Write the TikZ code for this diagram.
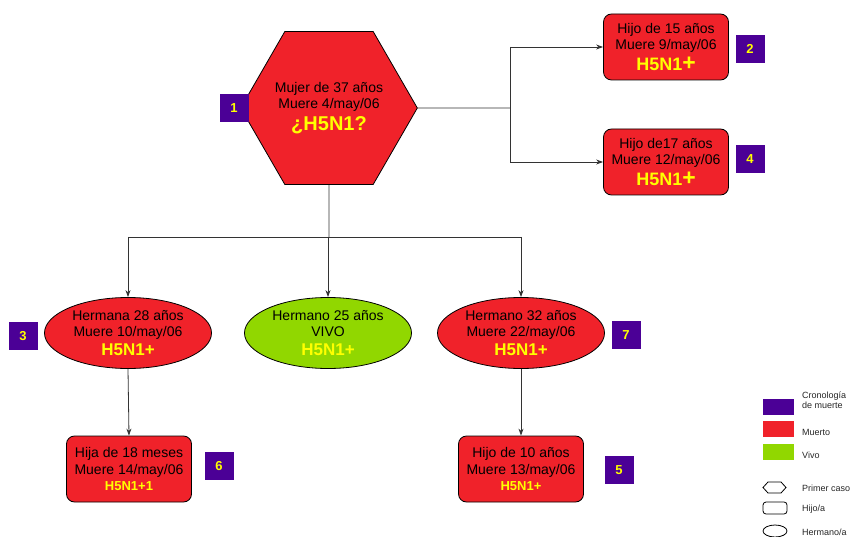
\documentclass[tikz,border=0pt]{standalone}
\usepackage{fontspec}
\setmainfont{Liberation Sans}
\usetikzlibrary{shapes.geometric,arrows.meta}
\definecolor{morado}{RGB}{75,0,150}
\definecolor{rojo}{RGB}{240,34,42}
\definecolor{verde}{RGB}{145,215,0}
\definecolor{amarillo}{RGB}{255,255,0}
\newcommand{\hcinco}[2]{{\color{amarillo}\fontsize{#1}{#1}\selectfont\bfseries #2}}

\begin{document}
\begin{tikzpicture}[x=1pt, y=-1pt,
  texto/.style={align=center, font=\fontsize{14}{16.5}\selectfont},
  caja/.style={texto, draw=black, line width=0.8pt, fill=rojo, rounded corners=8pt,
    minimum width=125pt, minimum height=66pt, inner sep=1pt},
  elipse/.style={texto, draw=black, line width=0.8pt, fill=rojo, ellipse,
    minimum width=167pt, minimum height=71pt, inner sep=0pt},
  hexa/.style={texto, draw=black, line width=0.8pt, fill=rojo, regular polygon,
    regular polygon sides=6, minimum size=156pt, inner sep=0pt},
  orden/.style={fill=morado, minimum width=29pt, minimum height=28pt, inner sep=0pt,
    text=amarillo, font=\fontsize{13}{13}\selectfont\bfseries},
  linea/.style={draw=black!80, line width=0.8pt},
  flecha/.style={linea, -{Stealth[length=7pt,width=5pt]}},
  muestra/.style={minimum width=31pt, minimum height=16pt, inner sep=0pt},
  leyenda/.style={anchor=west, align=left, inner sep=0pt, text=black!85,
    font=\fontsize{9}{10.5}\selectfont},
]
  \useasboundingbox (0,0) rectangle (853,537);

  % primer caso
  \node[hexa] (caso1) at (329,108) {Mujer de 37 años\\Muere 4/may/06\\[4pt]\hcinco{20}{¿H5N1?}};
  \node[orden] (n1) at (234,108) {1};

  % hijos
  \node[caja] (hijo15) at (666,47) {Hijo de 15 años\\Muere 9/may/06\\[4pt]\hcinco{18}{H5N1\fontsize{23}{23}\selectfont+}};
  \node[caja] (hijo17) at (666,162) {Hijo de17 años\\Muere 12/may/06\\[4pt]\hcinco{18}{H5N1\fontsize{23}{23}\selectfont+}};
  \node[orden] (n2) at (750,49) {2};
  \node[orden] (n4) at (750,159) {4};

  % hermanos
  \node[elipse] (hna28) at (128,333) {Hermana 28 años\\Muere 10/may/06\\[2pt]\hcinco{17}{H5N1+}};
  \node[elipse, fill=verde] (hno25) at (328,333) {Hermano 25 años\\VIVO\\[2pt]\hcinco{17}{H5N1+}};
  \node[elipse] (hno32) at (521,333) {Hermano 32 años\\Muere 22/may/06\\[2pt]\hcinco{17}{H5N1+}};
  \node[orden] (n3) at (23,336) {3};
  \node[orden] (n7) at (626,335) {7};

  % sobrinos
  \node[caja] (hija18) at (129,469) {Hija de 18 meses\\Muere 14/may/06\\\hcinco{13}{H5N1+1}};
  \node[caja] (hijo10) at (521,469) {Hijo de 10 años\\Muere 13/may/06\\\hcinco{13}{H5N1+}};
  \node[orden] (n6) at (219,466) {6};
  \node[orden] (n5) at (619,470) {5};

  % conexiones
  \coordinate (ramaD) at (510,108);
  \coordinate (ramaA) at (329,237);
  \draw[linea] (caso1.east) -- (ramaD);
  \draw[linea] (ramaD |- hijo15) -- (ramaD |- hijo17);
  \draw[flecha] (ramaD |- hijo15) -- (hijo15.west);
  \draw[flecha] (ramaD |- hijo17) -- (hijo17.west);
  \draw[linea] (caso1.south) -- (ramaA);
  \draw[linea] (hna28.north |- ramaA) -- (hno32.north |- ramaA);
  \draw[flecha] (hna28.north |- ramaA) -- (hna28.north);
  \draw[flecha] (hno25.north |- ramaA) -- (hno25.north);
  \draw[flecha] (hno32.north |- ramaA) -- (hno32.north);
  \draw[flecha] (hna28.south) -- (hija18.north);
  \draw[flecha] (hno32.south) -- (hijo10.north);

  % leyenda
  \node[muestra, fill=morado] (lmor) at (778.5,407) {};
  \node[muestra, fill=rojo] (lroj) at (778.5,429) {};
  \node[muestra, fill=verde] (lver) at (778.5,452) {};
  \node[leyenda] (tmor) at (802,400) {Cronología\\de muerte};
  \node[leyenda] (troj) at (802,432) {Muerto};
  \node[leyenda] (tver) at (802,455) {Vivo};
  \draw[line width=0.8pt] (763,487.5) -- (768,482) -- (781,482) -- (786,487.5)
    -- (781,493) -- (768,493) -- cycle;
  \draw[line width=0.8pt, rounded corners=3pt] (763,502) rectangle (787,514);
  \draw[line width=0.8pt] (775,531) ellipse [x radius=12, y radius=6];
  \node[leyenda] (tpri) at (802,488) {Primer caso};
  \node[leyenda] (thij) at (802,509) {Hijo/a};
  \node[leyenda] (ther) at (802,532) {Hermano/a};
\end{tikzpicture}
\end{document}
